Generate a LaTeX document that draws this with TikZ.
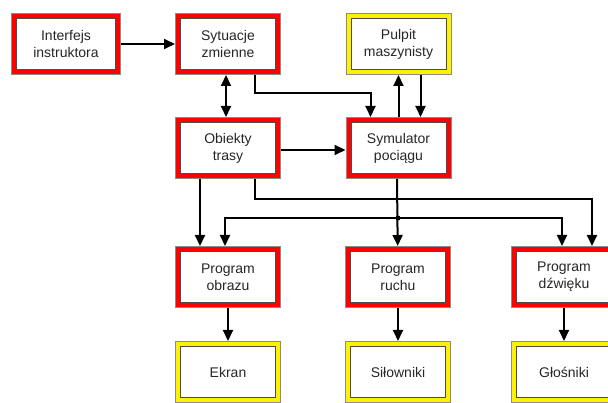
\documentclass[tikz,border=0pt]{standalone}
\usepackage{fontspec}
\setmainfont{Liberation Sans}
\usepackage{tikz}
\usetikzlibrary{arrows.meta}
\tikzset{
  blok/.style={draw=black!70, line width=0.9bp, fill=white, line join=miter,
    minimum width=95bp, minimum height=51bp, inner sep=0pt, outer sep=5.5bp,
    align=center, font=\fontsize{14bp}{17bp}\selectfont, text=black!85,
    preaction={draw=black!45, line width=11bp},
    preaction={draw=#1, line width=9bp}},
  blok/.default=red,
}
\begin{document}
\begin{tikzpicture}[>={Triangle[length=11bp,width=10bp]},line width=2bp]
\clip (0bp,0bp) rectangle (608bp,403bp);
%%
\node (node_interfejs) at (66bp,359bp) [blok,minimum width=99bp] {Interfejs\\instruktora};
  \node (node_sytuacje) at (228bp,359bp) [blok] {Sytuacje\\zmienne};
  \node (node_pulpit) at (398.5bp,359bp) [blok=yellow] {Pulpit\\maszynisty};
  \node (node_obiekty) at (228bp,255bp) [blok] {Obiekty\\trasy};
  \node (node_symulator) at (398.5bp,255bp) [blok] {Symulator\\pociągu};
  \node (node_obraz) at (228bp,126bp) [blok] {Program\\obrazu};
  \node (node_ruch) at (398bp,126bp) [blok] {Program\\ruchu};
  \node (node_dzwiek) at (564bp,126bp) [blok] {Program\\dźwięku};
  \node (node_ekran) at (228bp,31bp) [blok=yellow] {Ekran};
  \node (node_silowniki) at (398bp,31bp) [blok=yellow] {Siłowniki};
  \node (node_glosniki) at (564bp,31bp) [blok=yellow] {Głośniki};
  \coordinate (node_rozgal) at (398bp,185bp);
  \draw [black,->] (node_interfejs) -- (node_sytuacje);
  \draw [black,<->] ([xshift=-2bp]node_sytuacje.south) -- ([xshift=-2bp]node_obiekty.north);
  \draw [black,->] ([xshift=27bp]node_sytuacje.south) -- ++(0,-18bp) -| ([xshift=-28bp]node_symulator.north);
  \draw [black,->] (node_symulator) -- (node_pulpit);
  \draw [black,->] ([xshift=22bp]node_pulpit.south) -- ([xshift=22bp]node_symulator.north);
  \draw [black,->] ([yshift=-2bp]node_obiekty.east) -- ([yshift=-2bp]node_symulator.west);
  \draw [black,->] ([xshift=-28bp]node_obiekty.south) -- ([xshift=-28bp]node_obraz.north);
  \draw [black,->] ([xshift=27bp]node_obiekty.south) -- ++(0,-20bp) -| ([xshift=28bp]node_dzwiek.north);
  \draw [black,->] ([xshift=-1.5bp]node_symulator.south) -- (node_ruch);
  \draw [black,->] (node_rozgal) -| ([xshift=-3bp]node_obraz.north);
  \draw [black,->] (node_rozgal) -| ([xshift=-2bp]node_dzwiek.north);
  \fill [black] (node_rozgal) circle (2.5bp);
  \draw [black,->] (node_obraz) -- (node_ekran);
  \draw [black,->] (node_ruch) -- (node_silowniki);
  \draw [black,->] (node_dzwiek) -- (node_glosniki);
%
\end{tikzpicture}
\end{document}
